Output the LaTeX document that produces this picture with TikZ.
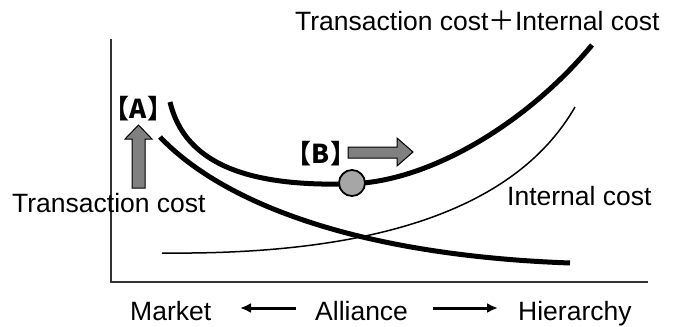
\documentclass[tikz,border=0pt]{standalone}
\usepackage{fontspec}
\setmainfont{Liberation Sans}
\newfontfamily\cjk{Noto Sans CJK JP}
\usetikzlibrary{arrows.meta}
\begin{document}
\begin{tikzpicture}[x=1pt,y=-1pt,
  lbl/.style={inner sep=0pt,anchor=base west,font=\fontsize{26.5}{30}\selectfont},
  tag/.style={inner sep=0pt,font=\fontsize{26}{30}\selectfont\cjk\bfseries},
  axis/.style={draw=black!80,line width=2pt},
  thick curve/.style={line width=5pt},
  thin curve/.style={line width=1.5pt},
  block/.style={draw=black,line width=1pt,fill=black!50},
  dir/.style={line width=3pt,-{Latex[length=11pt,width=10pt]}}]
\useasboundingbox (0,0) rectangle (673,327);
% axes
\coordinate (top) at (111,39);
\coordinate (origin) at (111,282);
\coordinate (right) at (648,282);
\draw[axis] (top) -- (origin) -- (right);
% curves
\draw[thin curve] (162,253) .. controls (350,255) and (510,220) .. (575,107);
\draw[thick curve] (160,137) .. controls (220,200) and (350,255) .. (570,263);
\draw[thick curve] (170,102) .. controls (185,165) and (250,186) .. (345,184)
                   .. controls (430,184) and (530,120) .. (592,45);
% point
\node[circle,draw=black,line width=1.8pt,fill=black!35,minimum size=26pt,inner sep=0pt] (pt) at (352,183) {};
% block arrows
\draw[block] (132,188) -- (132,139) -- (125,139) -- (138.5,125) -- (152,139) -- (145,139) -- (145,188) -- cycle;
\draw[block] (348,147) -- (397,147) -- (397,138) -- (413,152) -- (397,166) -- (397,158) -- (348,158) -- cycle;
% tags
\node[tag] (A) at (138.5,109) {【A】};
\node[tag] (B) at (321,154) {【B】};
% labels
\node[lbl] (total) at (295,30) {Transaction cost{\cjk ＋}Internal cost};
\node[lbl] (tc) at (12,212) {Transaction cost};
\node[lbl] (ic) at (507,205) {Internal cost};
\node[lbl] (market) at (130,320) {Market};
\node[lbl] (alliance) at (315,320) {Alliance};
\node[lbl] (hier) at (518,320) {Hierarchy};
\coordinate (l1) at (296,308);
\coordinate (l2) at (240,308);
\coordinate (r1) at (433,308);
\coordinate (r2) at (498,308);
\draw[dir] (l1) -- (l2);
\draw[dir] (r1) -- (r2);
\end{tikzpicture}
\end{document}
